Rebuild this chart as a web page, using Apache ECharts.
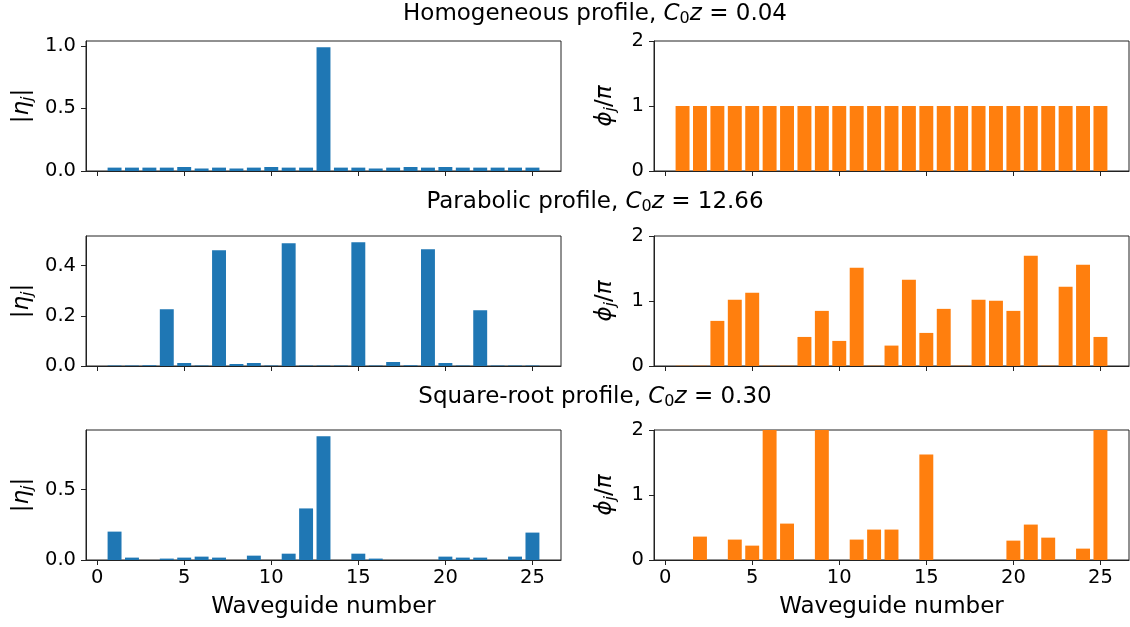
<!DOCTYPE html>
<html>
<head>
<meta charset="utf-8">
<script src="https://cdn.jsdelivr.net/npm/echarts@6/dist/echarts.min.js"></script>
<style>html,body{margin:0;padding:0;background:#fff}#c{width:1130px;height:627px}</style>
</head>
<body>
<div id="c"></div>
<script>
// ---- data ----
const waveguides = [1,2,3,4,5,6,7,8,9,10,11,12,13,14,15,16,17,18,19,20,21,22,23,24,25];
const xTicks = [0,5,10,15,20,25];

const homAmp   = [0.027,0.027,0.027,0.027,0.032,0.020,0.027,0.020,0.027,0.032,0.027,0.027,0.989,0.027,0.027,0.020,0.027,0.032,0.027,0.032,0.027,0.027,0.027,0.027,0.027];
const homPhase = [1,1,1,1,1,1,1,1,1,1,1,1,1,1,1,1,1,1,1,1,1,1,1,1,1];

const parAmp   = [0.002,0.002,0.003,0.226,0.012,0.002,0.461,0.008,0.012,0.002,0.489,0.002,0.002,0.002,0.493,0.002,0.016,0.003,0.465,0.012,0.002,0.222,0.002,0.002,0.002];
const parPhase = [0.005,0.005,0.694,1.018,1.126,0.005,0.005,0.447,0.848,0.386,1.512,0.005,0.314,1.326,0.509,0.879,0.005,1.018,1.003,0.848,1.697,0.005,1.219,1.558,0.447];

const sqrtAmp   = [0.202,0.017,0,0.010,0.017,0.024,0.017,0,0.031,0,0.045,0.367,0.881,0,0.045,0.010,0,0,0,0.024,0.017,0.017,0,0.024,0.195];
const sqrtPhase = [0,0.36,0,0.314,0.221,2.0,0.56,0,2.0,0,0.314,0.468,0.468,0,1.625,0,0,0,0,0.298,0.545,0.344,0,0.175,2.0];

const ampTicks = [[0,0.5,1.0],[0,0.2,0.4],[0,0.5]];
const phaseTicks = [0,1,2];

const titles = [
  {name:'Homogeneous profile, ', val:' = 0.04'},
  {name:'Parabolic profile, ', val:' = 12.66'},
  {name:'Square-root profile, ', val:' = 0.30'}
];

// ---- layout ----
const FONT = 'DejaVu Sans';
const BLUE = '#1f77b4', ORANGE = '#ff7f0e';
const leftX = [86, 654];
const gw = 475, gh = 130;
const tops = [41, 236, 430];
const titleY = [-4, 184, 379];
const xMin = -0.64, xMax = 26.64;
const barW = gw * 0.8 / (xMax - xMin);
const TICKFS = 19.5, LABFS = 23;

const amps = [homAmp, parAmp, sqrtAmp];
const phases = [homPhase, parPhase, sqrtPhase];

const grids = [], xAxes = [], yAxes = [], series = [], titleOpts = [];
const axisCol = '#222';

function pairs(arr){ return waveguides.map((w,i)=>[w, arr[i]]); }

for (let r = 0; r < 3; r++) {
  titleOpts.push({
    text: '{n|' + titles[r].name + '}{i|C}{s|0}{i|z}{n|' + titles[r].val + '}',
    left: 590, top: titleY[r], textAlign: 'center',
    textStyle: {
      fontWeight: 'normal',
      rich: {
        n: {fontFamily: FONT, fontSize: LABFS, fontWeight: 'normal', color: '#000'},
        i: {fontFamily: FONT, fontSize: LABFS, fontWeight: 'normal', fontStyle: 'italic', color: '#000'},
        s: {fontFamily: FONT, fontSize: 16, fontWeight: 'normal', color: '#000', padding: [10,0,0,0]}
      }
    }
  });
  for (let c = 0; c < 2; c++) {
    const idx = grids.length;
    grids.push({left: leftX[c], top: tops[r], width: gw, height: gh,
      show: true, borderColor: axisCol, borderWidth: 1, backgroundColor: 'transparent'});
    const bottom = (r === 2);
    xAxes.push({
      type: 'value', gridIndex: idx, min: xMin, max: xMax,
      axisLine: {show: true, onZero: false, lineStyle: {color: axisCol, width: 1}},
      axisTick: {show: true, length: 5, customValues: xTicks, lineStyle: {color: axisCol, width: 1}},
      axisLabel: {show: bottom, customValues: xTicks, fontFamily: FONT, fontSize: TICKFS, color: '#000', margin: 8},
      splitLine: {show: false},
      name: bottom ? 'Waveguide number' : '',
      nameLocation: 'middle', nameGap: 36,
      nameTextStyle: {fontFamily: FONT, fontSize: LABFS, color: '#000'}
    });
    let yMax, ticks, fmt, name, gap;
    if (c === 0) {
      yMax = Math.max(...amps[r]) * 1.05;
      ticks = ampTicks[r];
      fmt = v => v.toFixed(1);
      name = '{n||}{i|η}{s|j}{n||}';
      gap = 50;
    } else {
      yMax = 2; ticks = phaseTicks;
      fmt = v => String(Math.round(v));
      name = '{i|ϕ}{s|j}{n|/}{i|π}';
      gap = 35;
    }
    yAxes.push({
      type: 'value', gridIndex: idx, min: 0, max: yMax,
      axisLine: {show: true, onZero: false, lineStyle: {color: axisCol, width: 1}},
      axisTick: {show: true, length: 5, customValues: ticks, lineStyle: {color: axisCol, width: 1}},
      axisLabel: {show: true, customValues: ticks, formatter: fmt, fontFamily: FONT, fontSize: TICKFS, color: '#000', margin: 10},
      splitLine: {show: false},
      name: name, nameLocation: 'middle', nameRotate: 90, nameGap: gap,
      nameTextStyle: {
        rich: {
          n: {fontFamily: FONT, fontSize: LABFS, color: '#000'},
          i: {fontFamily: FONT, fontSize: LABFS, fontStyle: 'italic', color: '#000'},
          s: {fontFamily: FONT, fontSize: 16, fontStyle: 'italic', color: '#000', padding: [11,0,0,0]}
        }
      }
    });
    series.push({
      type: 'bar', xAxisIndex: idx, yAxisIndex: idx,
      data: pairs(c === 0 ? amps[r] : phases[r]),
      barWidth: barW,
      itemStyle: {color: c === 0 ? BLUE : ORANGE},
      silent: true, animation: false
    });
  }
}

const chart = echarts.init(document.getElementById('c'), null, {renderer: 'canvas'});
chart.setOption({
  animation: false,
  title: titleOpts,
  grid: grids, xAxis: xAxes, yAxis: yAxes, series: series
});
</script>
</body>
</html>
